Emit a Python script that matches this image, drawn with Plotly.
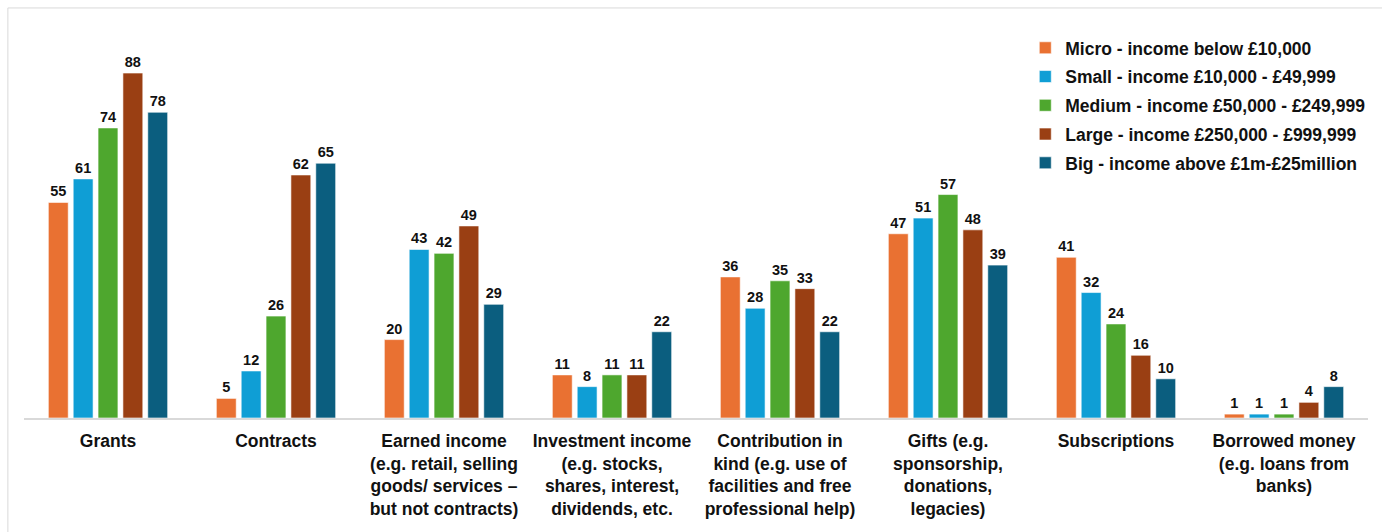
import plotly.graph_objects as go

categories = [
    "<b>Grants</b>",
    "<b>Contracts</b>",
    "<b>Earned income<br>(e.g. retail, selling<br>goods/ services –<br>but not contracts)</b>",
    "<b>Investment income<br>(e.g. stocks,<br>shares, interest,<br>dividends, etc.</b>",
    "<b>Contribution in<br>kind (e.g. use of<br>facilities and free<br>professional help)</b>",
    "<b>Gifts (e.g.<br>sponsorship,<br>donations,<br>legacies)</b>",
    "<b>Subscriptions</b>",
    "<b>Borrowed money<br>(e.g. loans from<br>banks)</b>",
]

series_names = [
    "Micro - income below £10,000",
    "Small - income £10,000 - £49,999",
    "Medium - income £50,000 - £249,999",
    "Large - income £250,000 - £999,999",
    "Big - income above £1m-£25million",
]

micro = [55, 5, 20, 11, 36, 47, 41, 1]
small = [61, 12, 43, 8, 28, 51, 32, 1]
medium = [74, 26, 42, 11, 35, 57, 24, 1]
large = [88, 62, 49, 11, 33, 48, 16, 4]
big = [78, 65, 29, 22, 22, 39, 10, 8]

colors = ["#E97132", "#0F9ED5", "#4EA72E", "#9A3F13", "#0B5E7F"]
FONT = "Liberation Sans, Arial"

fig = go.Figure()
for i, (name, vals, col) in enumerate(zip(series_names, [micro, small, medium, large, big], colors)):
    fig.add_trace(go.Bar(
        x=categories, y=vals, name=f"<b>{name}</b>",
        legendgroup=str(i),
        marker=dict(color=col, line=dict(color="white", width=0.6)),
        text=vals, textposition="outside", cliponaxis=False,
        textfont=dict(family=FONT, size=14.5, color="#111111"),
        texttemplate="<b>%{text}</b>",
    ))

fig.update_layout(
    width=1382, height=532,
    margin=dict(l=24, r=14, t=26, b=114),
    paper_bgcolor="white", plot_bgcolor="white",
    barmode="group", bargap=0.26, bargroupgap=0.2,
    font=dict(family=FONT, color="#111111"),
    showlegend=True,
    legend=dict(
        x=0.745, y=0.99, xanchor="left", yanchor="top",
        font=dict(size=17.5, family=FONT, color="#111111"),
        itemwidth=30, tracegroupgap=3, bgcolor="rgba(0,0,0,0)",
    ),
    xaxis=dict(
        showline=True, linecolor="#D9D9D9", linewidth=1.5,
        tickfont=dict(size=17.5, family=FONT, color="#111111"),
        ticks="", showgrid=False, ticklabelstandoff=6,
    ),
    yaxis=dict(range=[0, 100], visible=False, showgrid=False, zeroline=False),
    shapes=[dict(
        type="rect", xref="paper", yref="paper",
        x0=-0.012, x1=1.2, y0=-0.6, y1=1.046,
        line=dict(color="#D9D9D9", width=1), fillcolor="rgba(0,0,0,0)", layer="below",
    )],
)

fig.write_html("out.html")
